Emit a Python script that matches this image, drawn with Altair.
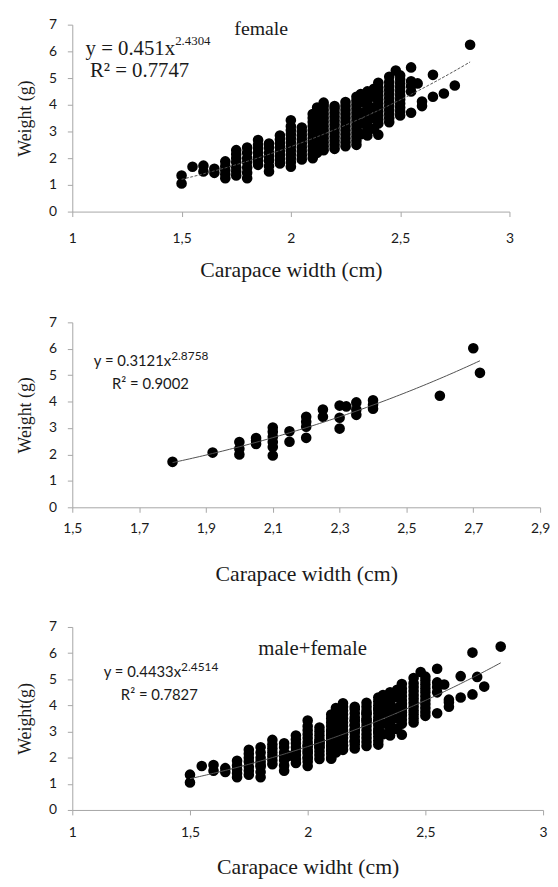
import altair as alt
import pandas as pd

# ---------------- data ----------------
# female: carapace width columns and the weights stacked in each column
female_x = [1.50, 1.55, 1.60, 1.65, 1.70, 1.75, 1.80, 1.85, 1.90, 1.95,
            2.00, 2.05, 2.10, 2.12, 2.15, 2.20, 2.25, 2.30, 2.32, 2.35,
            2.38, 2.40, 2.45, 2.48, 2.50, 2.55, 2.58, 2.60, 2.65, 2.70,
            2.75, 2.82]
female_y = [
    [1.05, 1.35],
    [1.68],
    [1.50, 1.72],
    [1.45, 1.60],
    [1.25, 1.40, 1.55, 1.70, 1.88],
    [1.35, 1.50, 1.65, 1.85, 2.00, 2.15, 2.30],
    [1.25, 1.45, 1.65, 1.85, 2.00, 2.20, 2.40],
    [1.75, 1.90, 2.05, 2.20, 2.35, 2.50, 2.68],
    [1.50, 1.70, 1.90, 2.05, 2.20, 2.40, 2.55],
    [1.80, 1.95, 2.10, 2.25, 2.40, 2.55, 2.70, 2.85],
    [1.68, 1.85, 2.00, 2.15, 2.30, 2.45, 2.60, 2.75, 2.90, 3.05, 3.20, 3.42],
    [1.95, 2.10, 2.25, 2.40, 2.55, 2.70, 2.85, 3.00, 3.15],
    [2.00, 2.15, 2.30, 2.45, 2.60, 2.75, 2.90, 3.05, 3.20, 3.35, 3.50, 3.65],
    [2.20, 2.50, 2.80, 3.10, 3.40, 3.70, 3.90],
    [2.30, 2.45, 2.60, 2.75, 2.90, 3.05, 3.20, 3.35, 3.50, 3.65, 3.80, 3.95, 4.08],
    [2.35, 2.50, 2.65, 2.80, 2.95, 3.10, 3.25, 3.40, 3.55, 3.70, 3.85, 3.95],
    [2.45, 2.60, 2.75, 2.90, 3.05, 3.20, 3.35, 3.50, 3.65, 3.80, 3.95, 4.10],
    [2.50, 2.65, 2.80, 2.95, 3.10, 3.25, 3.40, 3.55, 3.70, 3.85, 4.00, 4.15, 4.30],
    [2.90, 3.30, 3.70, 4.10, 4.40],
    [2.85, 3.00, 3.15, 3.30, 3.45, 3.60, 3.75, 3.90, 4.05, 4.20, 4.35, 4.50],
    [3.10, 3.50, 3.90, 4.30, 4.60],
    [2.88, 3.30, 3.45, 3.60, 3.75, 3.90, 4.05, 4.20, 4.35, 4.50, 4.65, 4.82],
    [3.35, 3.50, 3.65, 3.80, 3.95, 4.10, 4.25, 4.40, 4.55, 4.70, 4.85, 5.05],
    [5.28],
    [3.60, 3.75, 3.90, 4.05, 4.20, 4.35, 4.50, 4.65, 4.80, 4.95, 5.10],
    [3.70, 4.50, 4.70, 4.88, 5.40],
    [4.80],
    [3.95, 4.12],
    [4.30, 5.12],
    [4.42],
    [4.72],
    [6.25],
]

# male
male_x = [1.80, 1.92, 2.00, 2.05, 2.10, 2.15, 2.20, 2.25, 2.30, 2.32,
          2.35, 2.40, 2.60, 2.70, 2.72]
male_y = [
    [1.72],
    [2.07],
    [2.00, 2.22, 2.47],
    [2.40, 2.52, 2.62],
    [1.96, 2.28, 2.47, 2.67, 2.86, 3.02],
    [2.48, 2.88],
    [2.63, 3.05, 3.24, 3.43],
    [3.43, 3.70],
    [2.98, 3.39, 3.85],
    [3.82],
    [3.50, 3.70, 3.97],
    [3.73, 3.88, 4.05],
    [4.22],
    [6.02],
    [5.09],
]

# fitted power curves y = a * x^b  (as printed on the chart)
female_fit = (0.451, 2.4304, 0.7747, 1.50, 2.82)
male_fit = (0.3121, 2.8758, 0.9002, 1.80, 2.72)
all_fit = (0.4433, 2.4514, 0.7827, 1.50, 2.82)

x_ticks_wide = [1, 1.5, 2, 2.5, 3]
x_ticks_male = [1.5, 1.7, 1.9, 2.1, 2.3, 2.5, 2.7, 2.9]
y_ticks = [0, 1, 2, 3, 4, 5, 6, 7]


def explode(xs, ys):
    rows = []
    for xv, col in zip(xs, ys):
        for yv in col:
            rows.append({"cw": xv, "wt": yv})
    return pd.DataFrame(rows)


female_df = explode(female_x, female_y)
male_df = explode(male_x, male_y)
all_df = pd.concat([female_df, male_df], ignore_index=True)

# ---------------- styling ----------------
GRAY = "#a6a6a6"
INK = "#1a1a1a"
SERIF = "Liberation Serif"
SANS = "Lato"


def x_axis(title, values, fmt, label_pad, title_pad, title_size):
    return alt.Axis(
        title=title, values=values, format=fmt,
        labelExpr="replace(datum.label, '.', ',')",
        grid=False, domainColor=GRAY, tickColor=GRAY, tickSize=5,
        labelFont=SANS, labelFontSize=14, labelColor=INK,
        labelPadding=label_pad, labelFlush=False, labelOverlap=False,
        titleFont=SERIF, titleFontSize=title_size, titleFontWeight="normal",
        titleColor=INK, titlePadding=title_pad,
    )


def y_axis(title):
    return alt.Axis(
        title=title, values=y_ticks, format="d",
        grid=False, domainColor=GRAY, tickColor=GRAY, tickSize=5,
        labelFont=SANS, labelFontSize=14, labelColor=INK,
        labelPadding=11, labelFlush=False, labelOverlap=False,
        titleFont=SERIF, titleFontSize=18, titleFontWeight="normal",
        titleColor=INK, titlePadding=14,
    )


def label(text, x, y, font, size, align="left"):
    return alt.Chart(pd.DataFrame({"t": [text]})).mark_text(
        text=text, font=font, fontSize=size, align=align,
        baseline="alphabetic", color=INK,
    ).encode(x=alt.value(x), y=alt.value(y))


def panel(df, fit, xdom, xvals, xfmt, xtitle, ytitle, w, h,
          label_pad, title_pad, title_size, dash, texts):
    a, b, r2, x0, x1 = fit
    xenc = alt.X("cw:Q", scale=alt.Scale(domain=xdom, nice=False, zero=False),
                 axis=x_axis(xtitle, xvals, xfmt, label_pad, title_pad, title_size))
    yenc = alt.Y("wt:Q", scale=alt.Scale(domain=[0, 7], nice=False),
                 axis=y_axis(ytitle))
    pts = alt.Chart(df).mark_circle(size=115, color="black", opacity=1).encode(
        x=xenc, y=yenc)
    line_kw = dict(color="#505050", strokeWidth=1)
    if dash:
        line_kw["strokeDash"] = dash
    trend = alt.Chart(alt.sequence(x0, x1 + 0.005, 0.01, as_="cw")).transform_calculate(
        wt=f"{a}*pow(datum.cw,{b})"
    ).mark_line(**line_kw).encode(x=xenc, y=yenc)
    return alt.layer(pts, trend, *texts).properties(width=w, height=h)


def fmt_eq(fit):
    a, b, r2, x0, x1 = fit
    return f"y = {a}x", f"{b}", f"R² = {r2}"


f_main, f_sup, f_r2 = fmt_eq(female_fit)
m_main, m_sup, m_r2 = fmt_eq(male_fit)
a_main, a_sup, a_r2 = fmt_eq(all_fit)

p1 = panel(
    female_df, female_fit, [1, 3], x_ticks_wide, "~g",
    "Carapace width (cm)", "Weight (g)", 442, 189, 15, 15, 22, [3, 1.5],
    [
        label("female", 191, 10, SERIF, 20, "center"),
        label(f_main, 104, 31, SERIF, 21, "right"),
        label(f_sup, 104, 21, SERIF, 13, "left"),
        label(f_r2, 68, 53, SERIF, 21, "center"),
    ],
)

p2 = panel(
    male_df, male_fit, [1.5, 2.9], x_ticks_male, ".1f",
    "Carapace width (cm)", "Weight (g)", 473, 187, 9, 29, 22, None,
    [
        label(m_main, 100, 44, SANS, 15, "right"),
        label(m_sup, 100, 38, SANS, 12, "left"),
        label(m_r2, 79, 67, SANS, 15, "center"),
    ],
)

p3 = panel(
    all_df, all_fit, [1, 3], x_ticks_wide, "~g",
    "Carapace widht (cm)", "Weight(g)", 476, 185, 11, 17, 22, None,
    [
        label("male+female", 243, 28, SERIF, 21, "center"),
        label(a_main, 110, 51, SANS, 15, "right"),
        label(a_sup, 110, 45, SANS, 12, "left"),
        label(a_r2, 88, 74, SANS, 15, "center"),
    ],
)

top_pair = alt.vconcat(p1, p2, spacing=35)
chart = alt.vconcat(top_pair, p3, spacing=36).properties(
    padding={"left": 8, "top": 5, "right": 0, "bottom": 0},
    background="white",
).configure_view(stroke=None).configure_axis(
    titleFont=SERIF, titleFontWeight="normal", labelFont=SANS
)

chart.save("out.html", embed_options={"renderer": "svg", "actions": False})
